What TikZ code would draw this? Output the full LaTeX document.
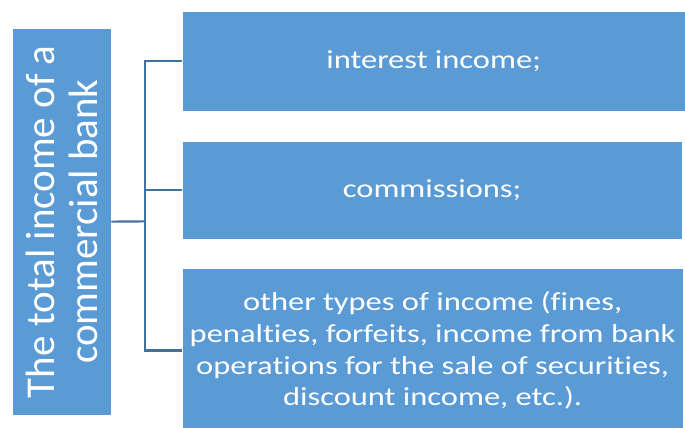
\documentclass[tikz,border=0pt]{standalone}
\usepackage{fontspec}
\setmainfont{Carlito}[Ligatures=NoCommon]
\newfontfamily\itemfont{Carlito}[FakeStretch=1.25, Ligatures=NoCommon]
\definecolor{boxblue}{HTML}{5B9BD5}
\definecolor{linkblue}{HTML}{41719C}
\begin{document}
\begin{tikzpicture}[x=1pt,y=-1pt,
  box/.style={fill=boxblue, draw=white, line width=0.6pt, inner sep=0pt,
    text=white, anchor=north west},
  itemtext/.style={align=center, font=\itemfont\fontsize{26}{31.7}\selectfont},
  link/.style={draw=linkblue, line width=2.2pt}]
\useasboundingbox (0,0) rectangle (685,428);
\clip (0,0) rectangle (685,428);

% root box with vertical caption
\node[box, minimum width=99pt, minimum height=387.3pt] (root) at (11.7,27.7) {};
\node[rotate=90, text=white, align=center, inner sep=0pt,
  font=\fontsize{41}{43}\selectfont] (rootlabel) at (root.center)
  {The total income of a\\commercial bank};

% income items
\node[box, itemtext, minimum width=503.3pt, minimum height=100pt] (b1) at (181.7,11)
  {interest income;};
\node[box, itemtext, minimum width=500.3pt, minimum height=98.3pt] (b2) at (181.7,140.7)
  {commissions;};
\node[box, itemtext, minimum width=501.3pt, minimum height=165.5pt] (b3) at (181.7,267.5)
  {other types of income (fines,\\penalties, forfeits, income from bank\\operations for the sale of securities,\\discount income, etc.).};

% bracket connector
\coordinate (joint) at (145,221.35);
\draw[link] (root.east) -- (joint);
\draw[link] (b1.west) -- (joint |- b1.west) -- (joint |- b3.west) -- (b3.west);
\draw[link] (joint |- b2.west) -- (b2.west);
\end{tikzpicture}
\end{document}
